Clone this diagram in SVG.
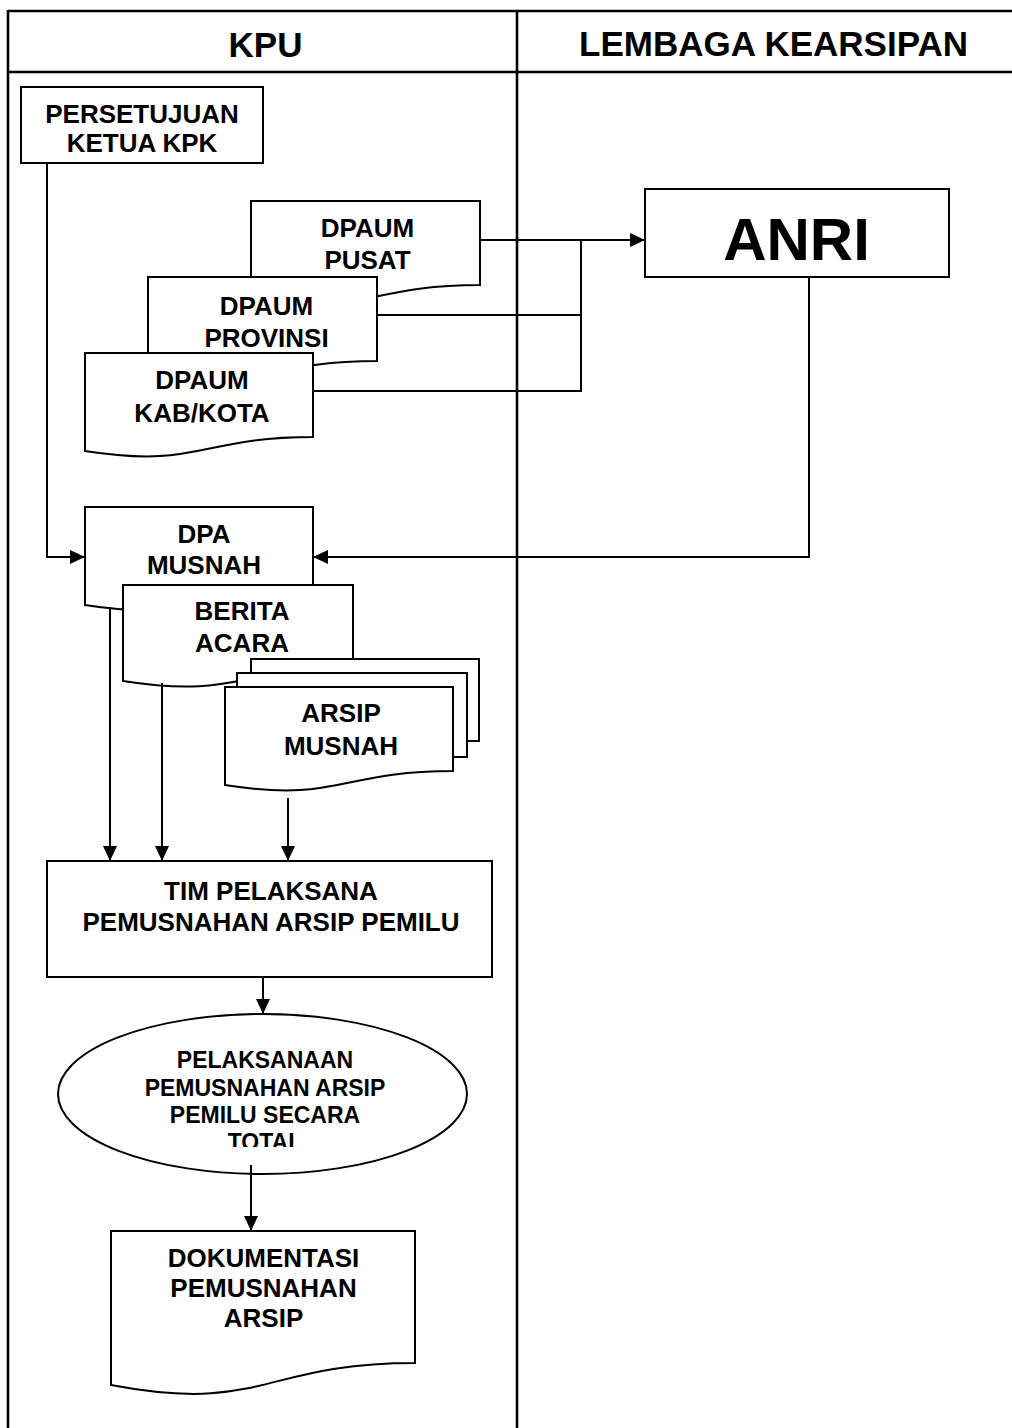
<svg xmlns="http://www.w3.org/2000/svg" width="1012" height="1428" viewBox="0 0 1012 1428">
<style>
.frame{stroke:#000;stroke-width:2.6;fill:none}
.shape{fill:#fff;stroke:#000;stroke-width:2}
.conn{fill:none;stroke:#000;stroke-width:2}
text{font-family:"Liberation Sans",Arial,sans-serif;font-weight:bold;fill:#000;text-anchor:middle}
.t26{font-size:26px}
.t23{font-size:23px}
.hdr{font-size:35px}
</style>
<defs>
<marker id="arr" markerUnits="userSpaceOnUse" markerWidth="16" markerHeight="14" refX="15" refY="7" orient="auto">
<path d="M0,0 L15,7 L0,14 Z" fill="#000"/>
</marker>
<clipPath id="ellclip"><rect x="40" y="1000" width="460" height="147"/></clipPath>
</defs>
<rect width="1012" height="1428" fill="#fff"/>
<g id="lanes">
<line class="frame" x1="8" y1="11" x2="1012" y2="11"/>
<line class="frame" x1="8" y1="72" x2="1012" y2="72"/>
<line class="frame" x1="8" y1="10" x2="8" y2="1428"/>
<line class="frame" x1="517" y1="10" x2="517" y2="1428"/>
<text class="hdr" x="265.5" y="57">KPU</text>
<text class="hdr" x="773.5" y="56">LEMBAGA KEARSIPAN</text>
</g>
<g id="persetujuan">
<rect class="shape" x="21" y="87" width="242" height="76"/>
<text class="t26" x="142" y="123">PERSETUJUAN</text>
<text class="t26" x="142" y="152">KETUA KPK</text>
</g>
<g id="dpaum-pusat">
<path class="shape" d="M251,201 H480 V285 C365.5,285 365.5,317 251,299 Z"/>
<text class="t26" x="367.5" y="237">DPAUM</text>
<text class="t26" x="367.5" y="269">PUSAT</text>
</g>
<g id="dpaum-provinsi">
<path class="shape" d="M148,277 H377 V361 C262.5,361 262.5,393 148,375 Z"/>
<text class="t26" x="266.5" y="315">DPAUM</text>
<text class="t26" x="266.5" y="347">PROVINSI</text>
</g>
<g id="dpaum-kabkota">
<path class="shape" d="M85,353 H313 V437 C199,437 199,469 85,451 Z"/>
<text class="t26" x="202" y="389">DPAUM</text>
<text class="t26" x="202" y="422">KAB/KOTA</text>
</g>
<g id="anri">
<rect class="shape" x="645" y="189" width="304" height="88"/>
<text x="796.5" y="260" style="font-size:60px">ANRI</text>
</g>
<g id="dpa-musnah">
<path class="shape" d="M85,507 H313 V591 C199,591 199,623 85,605 Z"/>
<text class="t26" x="204" y="543">DPA</text>
<text class="t26" x="204" y="574">MUSNAH</text>
</g>
<g id="berita-acara">
<path class="shape" d="M123,585 H353 V668 C238,668 238,699 123,681 Z"/>
<text class="t26" x="242" y="620">BERITA</text>
<text class="t26" x="242" y="652">ACARA</text>
</g>
<g id="arsip-musnah">
<rect class="shape" x="251" y="659" width="228" height="82"/>
<rect class="shape" x="237" y="673" width="230" height="84"/>
<path class="shape" d="M225,687 H453 V771 C339,771 339,803 225,785 Z"/>
<text class="t26" x="341" y="722">ARSIP</text>
<text class="t26" x="341" y="755">MUSNAH</text>
</g>
<g id="tim-pelaksana">
<rect class="shape" x="47" y="861" width="445" height="116"/>
<text class="t26" x="271" y="900">TIM PELAKSANA</text>
<text class="t26" x="271" y="931">PEMUSNAHAN ARSIP PEMILU</text>
</g>
<g id="pelaksanaan">
<ellipse class="shape" cx="262.5" cy="1094" rx="204.5" ry="80"/>
<g clip-path="url(#ellclip)">
<text class="t23" x="265" y="1068">PELAKSANAAN</text>
<text class="t23" x="265" y="1096">PEMUSNAHAN ARSIP</text>
<text class="t23" x="265" y="1123">PEMILU SECARA</text>
<text class="t23" x="265" y="1150">TOTAL</text>
</g>
</g>
<g id="dokumentasi">
<path class="shape" d="M111,1231 H415 V1363 C263,1363 263,1414 111,1385 Z"/>
<text class="t26" x="263.5" y="1267">DOKUMENTASI</text>
<text class="t26" x="263.5" y="1297">PEMUSNAHAN</text>
<text class="t26" x="263.5" y="1327">ARSIP</text>
</g>
<g id="connectors">
<polyline class="conn" points="47,163 47,557 85,557" marker-end="url(#arr)"/>
<line class="conn" x1="480" y1="240" x2="645" y2="240" marker-end="url(#arr)"/>
<line class="conn" x1="377" y1="315" x2="581" y2="315"/>
<polyline class="conn" points="313,391 581,391 581,239"/>
<polyline class="conn" points="809,277 809,557 313,557" marker-end="url(#arr)"/>
<line class="conn" x1="110" y1="607" x2="110" y2="861" marker-end="url(#arr)"/>
<line class="conn" x1="162" y1="683" x2="162" y2="861" marker-end="url(#arr)"/>
<line class="conn" x1="288" y1="798" x2="288" y2="861" marker-end="url(#arr)"/>
<line class="conn" x1="263" y1="977" x2="263" y2="1014" marker-end="url(#arr)"/>
<line class="conn" x1="251" y1="1165" x2="251" y2="1231" marker-end="url(#arr)"/>
</g>
</svg>
